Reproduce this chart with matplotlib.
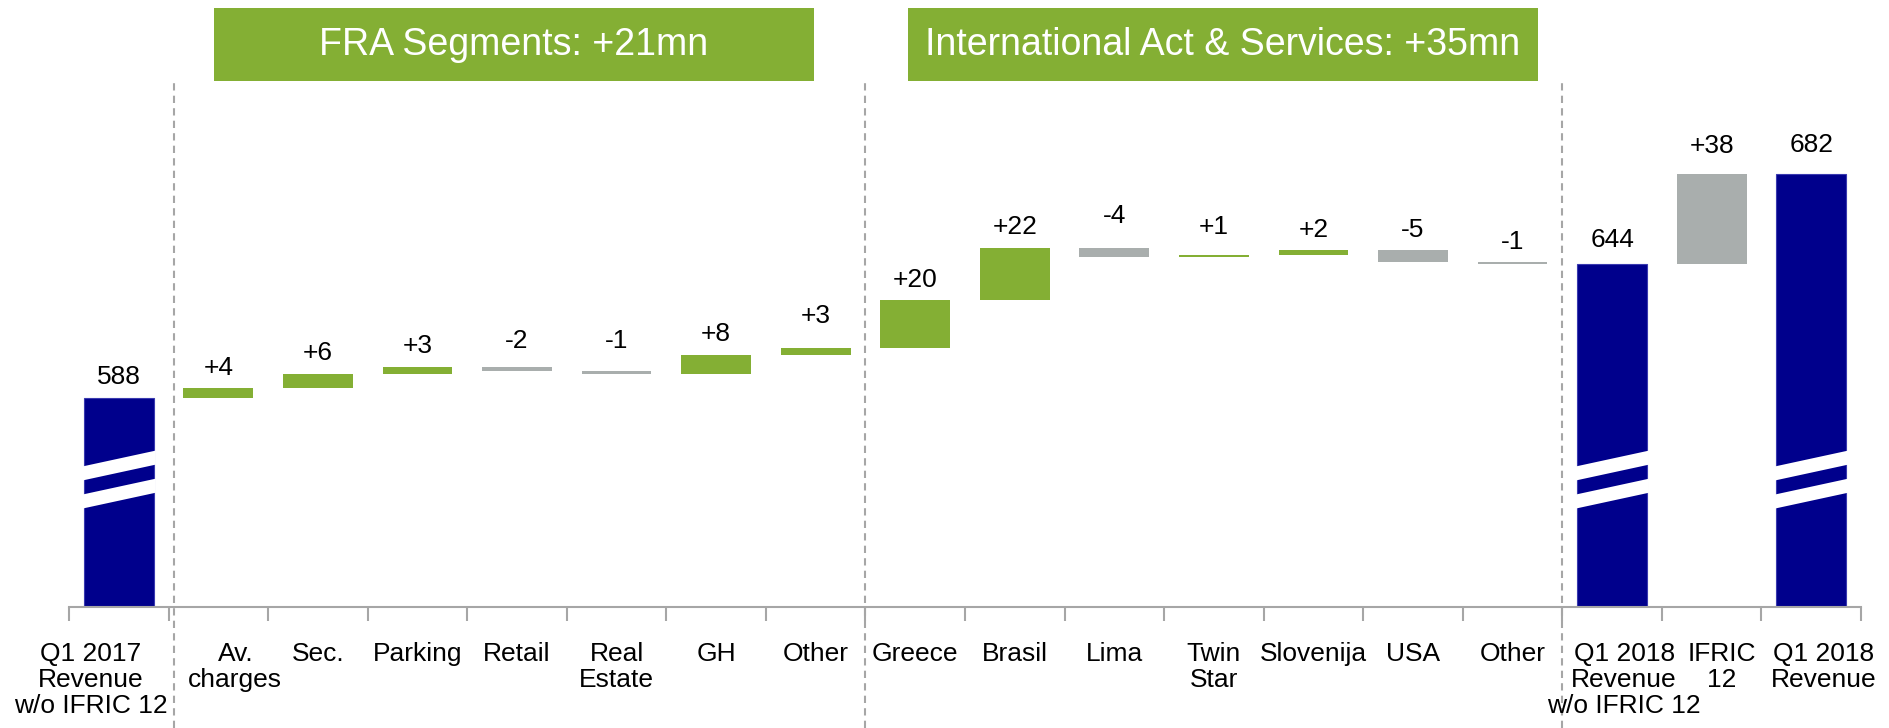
import matplotlib
matplotlib.use("Agg")
import matplotlib.pyplot as plt
from matplotlib.patches import Rectangle, Polygon
from matplotlib.transforms import blended_transform_factory, ScaledTranslation
import numpy as np

# ---------------- data ----------------
categories = [
    "Q1 2017\nRevenue\nw/o IFRIC 12",
    "Av.\ncharges", "Sec.", "Parking", "Retail", "Real\nEstate", "GH", "Other",
    "Greece", "Brasil", "Lima", "Twin\nStar", "Slovenija", "USA", "Other",
    "Q1 2018\nRevenue\nw/o IFRIC 12", "IFRIC\n12", "Q1 2018\nRevenue",
]
values = [588, 4, 6, 3, -2, -1, 8, 3, 20, 22, -4, 1, 2, -5, -1, 644, 38, 682]
kinds = ["total"] + ["delta"] * 14 + ["total", "ifric", "total"]
group_titles = ["FRA Segments: +21mn", "International Act & Services: +35mn"]
axis_base = 500  # broken axis baseline value

# ---------------- style ----------------
NAVY = "#00008C"
GREEN = "#84AF34"
GRAY = "#A9AEAD"
AXIS_GRAY = "#A6A6A6"
FONT = ["Liberation Sans", "DejaVu Sans"]
plt.rcParams["font.family"] = FONT

W, H = 1889, 728
fig = plt.figure(figsize=(W / 100, H / 100), dpi=100)
ax_left, ax_right, ax_bottom_px = 69, 1861, 607
ax = fig.add_axes([ax_left / W, (H - ax_bottom_px) / H,
                   (ax_right - ax_left) / W, ax_bottom_px / H])
n = len(categories)
ax.set_xlim(-0.5, n - 0.5)
ax.set_ylim(axis_base, 755)

# waterfall geometry
bottoms, heights, colors, tops, labels = [], [], [], [], []
running = 0
for v, k in zip(values, kinds):
    if k == "total":
        bottoms.append(axis_base)
        heights.append(v - axis_base)
        colors.append(NAVY)
        tops.append(v)
        labels.append(f"{v}")
        running = v
    else:
        new = running + v
        bottoms.append(min(running, new))
        heights.append(abs(v))
        colors.append(GRAY if (k == "ifric" or v < 0) else GREEN)
        tops.append(max(running, new))
        labels.append(f"{v:+d}")
        running = new

x = np.arange(n)
bw = 0.70
edges = ["#3A3AB0" if k == "total" else "none" for k in kinds]
ax.bar(x, heights, bottom=bottoms, width=bw, color=colors, edgecolor=edges,
       linewidth=0.8, zorder=2)

# break marks on total bars (white diagonal stripes)
brk_center = 553.5
rise = 6.7
thick = 5.9
sep = 11.8
for xi, k in zip(x, kinds):
    if k != "total":
        continue
    xl, xr = xi - bw / 2 - 0.02, xi + bw / 2 + 0.02
    for c in (brk_center + sep / 2, brk_center - sep / 2):
        yl = c - rise / 2
        yr = c + rise / 2
        poly = Polygon([[xl, yl - thick / 2], [xr, yr - thick / 2],
                        [xr, yr + thick / 2], [xl, yl + thick / 2]],
                       closed=True, facecolor="white", edgecolor="none", zorder=3)
        ax.add_patch(poly)

# value labels (small per-label vertical nudges in points, as in the original)
label_raise_pt = {4: 4, 5: 7, 7: 8, 10: 8, 11: 5, 15: 3, 16: 5, 17: 6}
for i, (xi, t, lab) in enumerate(zip(x, tops, labels)):
    ax.annotate(lab, (xi, t), xytext=(0, 6 + label_raise_pt.get(i, 0)),
                textcoords="offset points", ha="center", va="bottom",
                fontsize=19, color="black", zorder=4)

# axes styling
for s in ("top", "right", "left"):
    ax.spines[s].set_visible(False)
ax.spines["bottom"].set_color(AXIS_GRAY)
ax.spines["bottom"].set_linewidth(1.5)
ax.set_yticks([])
ax.set_xticks(x)
ax.set_xticklabels(categories, fontsize=19, linespacing=1.12)
ax.tick_params(axis="x", which="major", length=0, pad=25)
ax.set_xticks(np.arange(-0.5, n, 1.0), minor=True)
ax.tick_params(axis="x", which="minor", length=10, width=1.5, color=AXIS_GRAY)

# nudge a few tick labels sideways as in the original layout (pixels)
label_shift_px = {0: -28, 1: 17, 15: 12, 16: 10, 17: 12}
for i, lbl in enumerate(ax.get_xticklabels()):
    if i in label_shift_px:
        lbl.set_transform(lbl.get_transform() +
                          ScaledTranslation(label_shift_px[i] / 100, 0, fig.dpi_scale_trans))

# dashed separators
trans = blended_transform_factory(ax.transData, fig.transFigure)
for sx in (0.55, 7.5, 14.5):
    ax.plot([sx, sx], [0, (H - 82) / H], transform=trans, color="#A6A6A6",
            lw=1.5, ls=(0, (3.5, 2.5)), clip_on=False, zorder=1)

# group header boxes
boxes = [(214, 814), (908, 1538)]
for (bx0, bx1), title in zip(boxes, group_titles):
    fig.add_artist(Rectangle((bx0 / W, (H - 81) / H), (bx1 - bx0) / W, 73 / H,
                             transform=fig.transFigure, facecolor=GREEN,
                             edgecolor="none"))
    fig.text((bx0 + bx1) / 2 / W, (H - 45) / H, title, ha="center", va="center",
             color="white", fontsize=27)

fig.savefig("out.png", dpi=100)
